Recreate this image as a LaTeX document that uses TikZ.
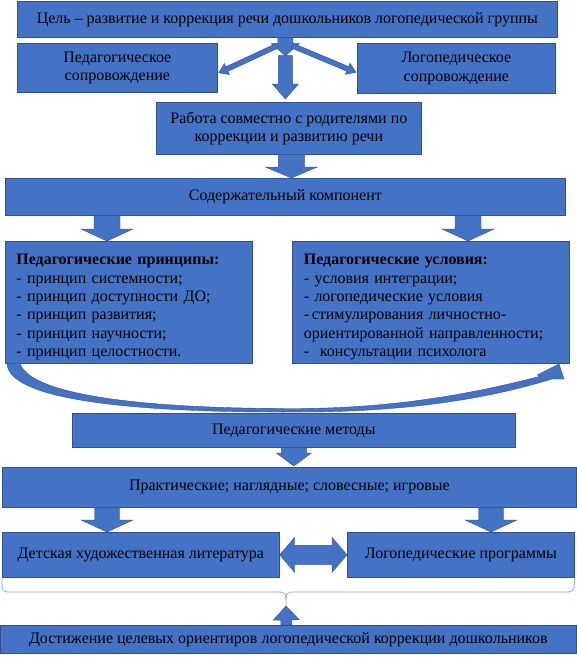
\documentclass[tikz,border=0pt]{standalone}
\usepackage{fontspec}
\setmainfont{Liberation Serif}
\usetikzlibrary{calc}
\definecolor{boxblue}{HTML}{4472C4}
\definecolor{boxedge}{HTML}{2F528F}
\definecolor{bracec}{HTML}{8FAADC}
\tikzset{
  box/.style={draw=boxedge, line width=0.7pt, fill=boxblue, inner sep=0pt,
    align=center, font=\fontsize{16}{18.4}\selectfont, text=black},
  listbox/.style={box, align=left, inner xsep=11pt, text width=#1},
  arrowfill/.style={fill=boxblue, draw=boxedge, line width=0.4pt, line join=miter},
}
\newcommand\mkbox[7][box]{%
  \node[#1, anchor=north west, minimum width=#5-#3, minimum height=#6-#4] (#2) at (#3,#4) {#7};}
% block arrow: start, end, shaft half width, head half width, head length
\newcommand\barrow[5]{%
  \path #1 coordinate (ba-a) #2 coordinate (ba-b);
  \coordinate (ba-h) at ($(ba-b)!#5!(ba-a)$);
  \path[arrowfill] ($(ba-a)!#3!90:(ba-b)$) -- ($(ba-h)!#3!90:(ba-b)$) -- ($(ba-h)!#4!90:(ba-b)$)
    -- (ba-b) -- ($(ba-h)!#4!-90:(ba-b)$) -- ($(ba-h)!#3!-90:(ba-b)$) -- ($(ba-a)!#3!-90:(ba-b)$) -- cycle;}
% double block arrow
\newcommand\dbarrow[5]{%
  \path #1 coordinate (da-a) #2 coordinate (da-b);
  \coordinate (da-h1) at ($(da-a)!#5!(da-b)$);
  \coordinate (da-h2) at ($(da-b)!#5!(da-a)$);
  \path[arrowfill] (da-a) -- ($(da-h1)!#4!90:(da-b)$) -- ($(da-h1)!#3!90:(da-b)$)
    -- ($(da-h2)!#3!-90:(da-a)$) -- ($(da-h2)!#4!-90:(da-a)$) -- (da-b)
    -- ($(da-h2)!#4!90:(da-a)$) -- ($(da-h2)!#3!90:(da-a)$)
    -- ($(da-h1)!#3!-90:(da-b)$) -- ($(da-h1)!#4!-90:(da-b)$) -- cycle;}
\begin{document}
\begin{tikzpicture}[x=1pt,y=-1pt]
\useasboundingbox (0,0) rectangle (577,661);
\fill[white] (0,0) rectangle (577,661);
% boxes
\mkbox{goal}{17}{1}{557}{37}{Цель – развитие и коррекция речи дошкольников логопедической группы}
\mkbox{pedsup}{17}{43}{217}{92}{Педагогическое\\сопровождение}
\mkbox{logsup}{357}{43}{555}{93}{Логопедическое\\сопровождение}
\mkbox{parents}{156}{102}{421}{154}{Работа совместно с родителями по\\коррекции и развитию речи}
\mkbox{content}{5}{178}{565}{215}{Содержательный компонент}
\mkbox[listbox=225pt]{princ}{5}{241}{252}{363}{\rule{0pt}{20pt}\textbf{Педагогические принципы:}\\- принцип системности;\\- принцип доступности ДО;\\- принцип развития;\\- принцип научности;\\- принцип целостности.}
\mkbox[{listbox=254pt, inner xsep=11.5pt}]{cond}{292}{241}{569}{363}{\rule{0pt}{20pt}\textbf{Педагогические условия:}\\- условия интеграции;\\- логопедические условия\\-\,стимулирования личностно-\\ориентированной направленности;\\-\ \ консультации психолога}
\mkbox{methods}{72}{413}{515}{447}{Педагогические методы}
\mkbox{practical}{2}{467}{576}{507}{Практические; наглядные; словесные; игровые}
\mkbox{lit}{2}{532}{279}{577}{Детская художественная литература}
\mkbox{prog}{347}{532}{574}{577}{Логопедические программы}
\mkbox{result}{0}{625}{576}{653}{Достижение целевых ориентиров логопедической коррекции дошкольников}
% arrows top
\coordinate (hub) at ($(goal.south)+(-2,18)$);
\barrow{([xshift=-2pt]goal.south)}{(hub)}{7.5pt}{14pt}{12pt}
\coordinate (p2) at ($(hub |- parents.north)+(0,-3)$);
\barrow{(hub)}{(p2)}{7pt}{13pt}{15pt}
\barrow{($(hub)+(-8,-10)$)}{($(pedsup.east)+(1,5)$)}{2.5pt}{6pt}{9pt}
\barrow{($(hub)+(7,-10)$)}{($(logsup.west)+(-1,4)$)}{2.5pt}{6pt}{9pt}
\coordinate (p5) at ($(parents.south)+(2.5,0)$);
\barrow{(p5)}{(p5 |- content.north)}{13pt}{26pt}{11pt}
\coordinate (p6) at ($(content.south west)+(102,0)$);
\barrow{(p6)}{(p6 |- princ.north)}{13pt}{26pt}{12pt}
\coordinate (p7) at ($(content.south west)+(463,0)$);
\barrow{(p7)}{(p7 |- cond.north)}{13pt}{26pt}{12pt}
\barrow{(methods.south)}{($(methods.south |- practical.north)+(0,-1)$)}{12.5pt}{17.5pt}{13pt}
\coordinate (p9) at ($(practical.south west)+(105,0)$);
\barrow{(p9)}{(p9 |- lit.north)}{12.5pt}{26pt}{12pt}
\coordinate (p10) at ($(practical.south west)+(489,0)$);
\barrow{(p10)}{(p10 |- prog.north)}{12.5pt}{26pt}{12pt}
\dbarrow{(lit.east)}{(prog.west)}{9.5pt}{17.5pt}{15pt}
% brace
\coordinate (bracetip) at (286,606);
\draw[bracec, line width=0.8pt] ($(lit.south west)+(0,1)$) .. controls (2,592) .. (12,592) -- (276,592)
  .. controls (286,592) .. (bracetip) .. controls (286,592) .. (296,592) -- (564,592)
  .. controls (574,592) .. ($(prog.south east)+(0,1)$);
\barrow{($(result.north)+(-2,0)$)}{(bracetip)}{5.5pt}{13pt}{14pt}
% curved arrow
\path[arrowfill] ($(princ.south west)+(2,0)$) .. controls (9,398) and (120,413) .. (300,412)
  .. controls (420,412) and (500,395) .. (552,379) -- (564,379) -- (559,364) -- (537,375) -- (541,376)
  .. controls (480,392) and (400,408) .. (300,408.5) .. controls (125,409) and (28,392) .. (20,363) -- cycle;
\end{tikzpicture}
\end{document}
